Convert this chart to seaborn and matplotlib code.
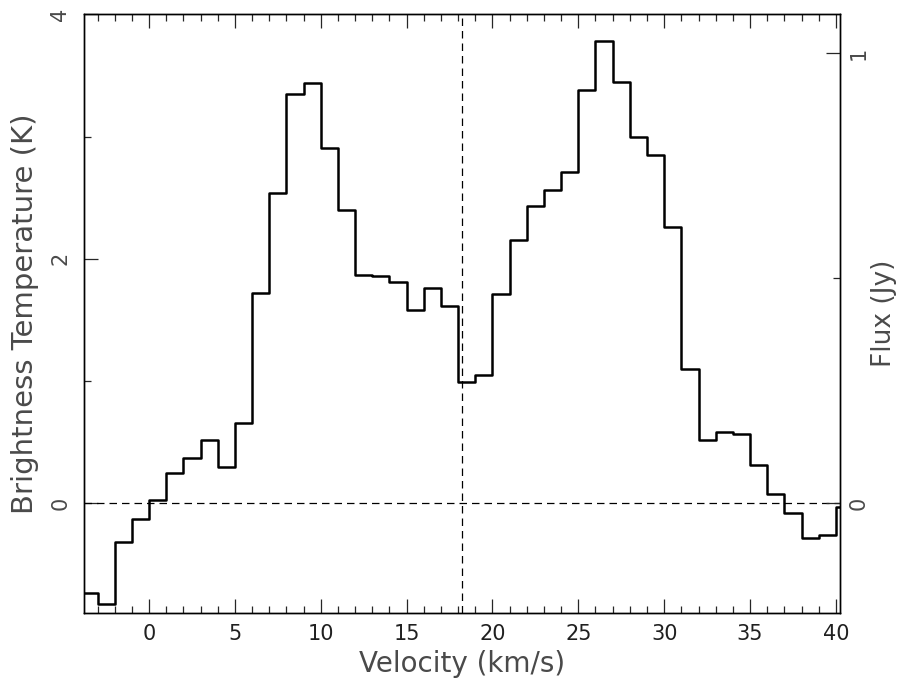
import numpy as np
import pandas as pd
import matplotlib
matplotlib.use("Agg")
import matplotlib.pyplot as plt
import seaborn as sns
from matplotlib.ticker import FixedLocator

# Channel left edges (km/s) and brightness temperatures (K)
vel_edges = [-4, -3, -2, -1, 0, 1, 2, 3, 4, 5, 6, 7, 8, 9, 10, 11, 12, 13, 14, 15,
             16, 17, 18, 19, 20, 21, 22, 23, 24, 25, 26, 27, 28, 29, 30, 31, 32, 33,
             34, 35, 36, 37, 38, 39, 40, 41]
temp_K = [-0.73, -0.82, -0.32, -0.13, 0.03, 0.25, 0.37, 0.52, 0.30, 0.66,
          1.72, 2.54, 3.35, 3.44, 2.91, 2.40, 1.87, 1.86, 1.81, 1.58,
          1.76, 1.61, 0.99, 1.05, 1.71, 2.15, 2.43, 2.56, 2.71, 3.38,
          3.78, 3.45, 3.00, 2.85, 2.26, 1.10, 0.52, 0.58, 0.57, 0.31,
          0.08, -0.08, -0.28, -0.26, -0.03]
x_ticks = [0, 5, 10, 15, 20, 25, 30, 35, 40]
y_ticks = [0, 2, 4]
flux_ticks = [0, 1]
K_per_Jy = 3.68
v_marker = 18.25

df = pd.DataFrame({"v": vel_edges, "T": temp_K + [temp_K[-1]]})

sns.set_style("ticks")
plt.rcParams["font.family"] = ["DejaVu Sans"]
txt_color = "#4a4a4a"

fig = plt.figure(figsize=(9.01, 6.87), dpi=100)
ax = fig.add_axes([84.3 / 901, 74 / 687, (840 - 84.3) / 901, (613 - 14.3) / 687])

sns.lineplot(data=df, x="v", y="T", drawstyle="steps-post", color="black",
             linewidth=1.8, estimator=None, ax=ax)

ax.axhline(0, color="black", linestyle=(0, (6, 4)), linewidth=0.9)
ax.axvline(v_marker, color="black", linestyle=(0, (6, 4)), linewidth=0.9)

ax.set_xlim(-3.77, 40.24)
ax.set_ylim(-0.897, 4.0)

ax.xaxis.set_major_locator(FixedLocator(x_ticks))
ax.xaxis.set_minor_locator(FixedLocator(list(range(-3, 41))))
ax.yaxis.set_major_locator(FixedLocator(y_ticks))
ax.yaxis.set_minor_locator(FixedLocator([1, 3]))

ax.tick_params(axis="x", which="both", direction="in", top=True, bottom=True,
               labelsize=15, pad=8, labelcolor="#202020")
ax.tick_params(axis="x", which="major", length=10, width=0.9)
ax.tick_params(axis="x", which="minor", length=5, width=0.9)
ax.tick_params(axis="y", which="both", direction="in", left=True, right=False,
               labelsize=15, pad=10, labelcolor=txt_color)
ax.tick_params(axis="y", which="major", length=10, width=0.9)
ax.tick_params(axis="y", which="minor", length=5, width=0.9)
for lab in ax.get_yticklabels():
    lab.set_rotation(90)
    lab.set_va("center")

for sp in ax.spines.values():
    sp.set_visible(True)
    sp.set_linewidth(1.0)
    sp.set_color("black")

ax.set_xlabel("Velocity (km/s)", fontsize=20, color=txt_color, labelpad=4)
ax.set_ylabel("Brightness Temperature (K)", fontsize=21, color=txt_color, labelpad=8)

ax2 = ax.twinx()
ax2.set_ylim(-0.897 / K_per_Jy, 4.0 / K_per_Jy)
ax2.yaxis.set_major_locator(FixedLocator(flux_ticks))
ax2.yaxis.set_minor_locator(FixedLocator([0.5]))
ax2.tick_params(axis="y", which="both", direction="in", right=True,
                labelsize=15, pad=6, labelcolor=txt_color)
ax2.tick_params(axis="y", which="major", length=10, width=0.9)
ax2.tick_params(axis="y", which="minor", length=5, width=0.9)
for lab in ax2.get_yticklabels():
    lab.set_rotation(90)
    lab.set_va("center")
ax2.set_ylabel("Flux (Jy)", fontsize=19, color=txt_color, labelpad=2)
for sp in ax2.spines.values():
    sp.set_linewidth(1.0)
    sp.set_color("black")

fig.savefig("out.png", dpi=100)
